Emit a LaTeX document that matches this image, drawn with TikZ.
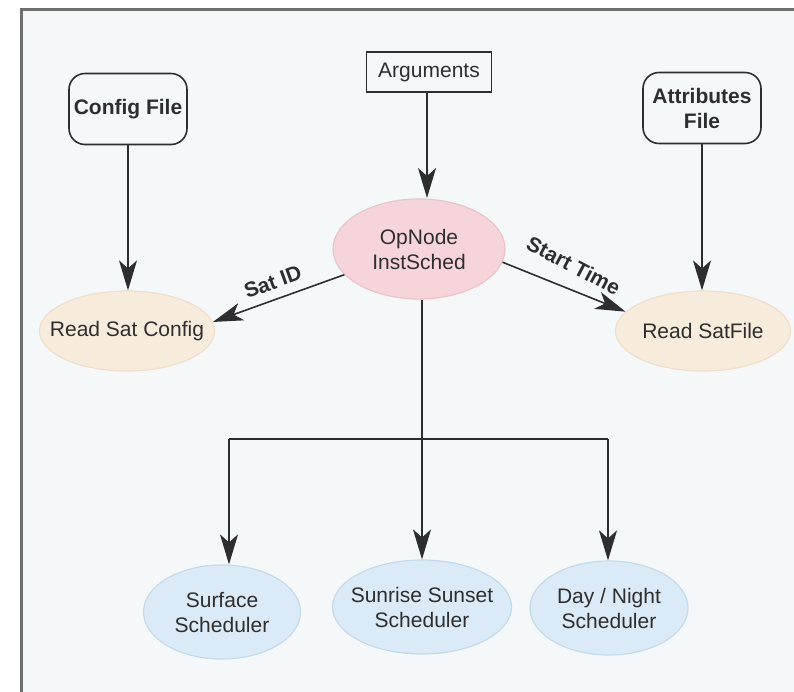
\documentclass[tikz,border=0pt]{standalone}
\usepackage{fontspec}
\setmainfont{Liberation Sans}
\usetikzlibrary{shapes.geometric,arrows.meta}
\definecolor{panel}{HTML}{F4F8F8}
\definecolor{frameline}{HTML}{6E6E6E}
\definecolor{ink}{HTML}{2E2E2E}
\definecolor{pinkfill}{HTML}{F5D5DA}
\definecolor{pinkedge}{HTML}{EBC3CA}
\definecolor{beigefill}{HTML}{F7EBDC}
\definecolor{beigeedge}{HTML}{F0DEC8}
\definecolor{bluefill}{HTML}{DAEAF6}
\definecolor{blueedge}{HTML}{C3DAEC}
\tikzset{
  txt/.style={font=\fontsize{21}{25}\selectfont, text=ink, align=center},
  bold/.style={font=\fontsize{21}{25}\selectfont\bfseries},
  filebox/.style={txt, bold, draw=ink, line width=1.6pt, rounded corners=16pt,
    minimum width=118pt, minimum height=71pt, inner sep=2pt},
  argbox/.style={txt, draw=ink, line width=1.6pt, minimum width=125pt,
    minimum height=40pt, inner sep=2pt},
  % ovals keep a fixed size; their text is set as a centred label
  oval/.style={ellipse, inner sep=0pt, line width=1.2pt},
  otext/.style={label={[txt, inner sep=0pt]center:#1}},
  core/.style={oval, fill=pinkfill, draw=pinkedge, minimum width=172pt, minimum height=100pt},
  reader/.style={oval, fill=beigefill, draw=beigeedge, minimum width=175pt, minimum height=80pt},
  sched/.style={oval, fill=bluefill, draw=blueedge, minimum height=94pt},
  wire/.style={draw=ink, line width=1.6pt},
  arr/.style={wire, -{Stealth[length=30pt,width=18pt,inset=8pt]}},
  rarr/.style={wire, {Stealth[length=30pt,width=18pt,inset=8pt]}-},
  lbl/.style={txt, bold, inner sep=0pt}
}
\begin{document}
\begin{tikzpicture}[x=1pt,y=-1pt]
  \useasboundingbox (0,0) rectangle (794,692);
  % panel and its frame (top and left edges)
  \fill[white] (0,0) rectangle (794,692);
  \fill[panel] (21,10) rectangle (794,692);
  \draw[frameline, line width=3pt] (21,692) -- (21,10) -- (794,10);

  % sources
  \node[argbox]  (args)  at (429,72)  {Arguments};
  \node[filebox] (cfg)   at (128,109) {Config File};
  \node[filebox] (attr)  at (702,108) {Attributes\\File};

  % central process and readers
  \node[core,   otext={OpNode\\InstSched}] (op)  at (419,249) {};
  \node[reader, otext={Read Sat Config}]   (rsc) at (127,331) {};
  \node[reader, otext={Read SatFile}]      (rsf) at (703,331) {};

  % schedulers
  \node[sched, minimum width=157pt, otext={Surface\\Scheduler}]        (surf) at (222,612) {};
  \node[sched, minimum width=179pt, otext={Sunrise Sunset\\Scheduler}] (sun)  at (422,607) {};
  \node[sched, minimum width=158pt, otext={Day / Night\\Scheduler}]    (dn)   at (609,608) {};

  % inputs
  \draw[arr] (args.south -| 427,0) -- (427,198);
  \draw[arr] (cfg.south) -- (cfg.south |- rsc.north);
  \draw[arr] (attr.south) -- (attr.south |- rsf.north);

  % parameters passed to the readers
  \draw[rarr] (rsc.6) -- node[lbl, sloped, above=9pt, pos=0.5] {Sat ID} (op.199);
  \draw[arr] (op.-9) -- node[lbl, sloped, above=15pt, pos=0.5, rotate=-6] {Start Time} (rsf.166);

  % fan-out to the schedulers
  \coordinate (busL) at (229,439);
  \coordinate (busR) at (608,439);
  \coordinate (stem) at (422,300);
  \draw[wire] (busL) -- (busR);
  \draw[arr] (stem |- op.south) -- (sun.north);
  \draw[arr] (busL) -- (busL |- surf.north);
  \draw[arr] (busR) -- (busR |- dn.north);
\end{tikzpicture}
\end{document}
